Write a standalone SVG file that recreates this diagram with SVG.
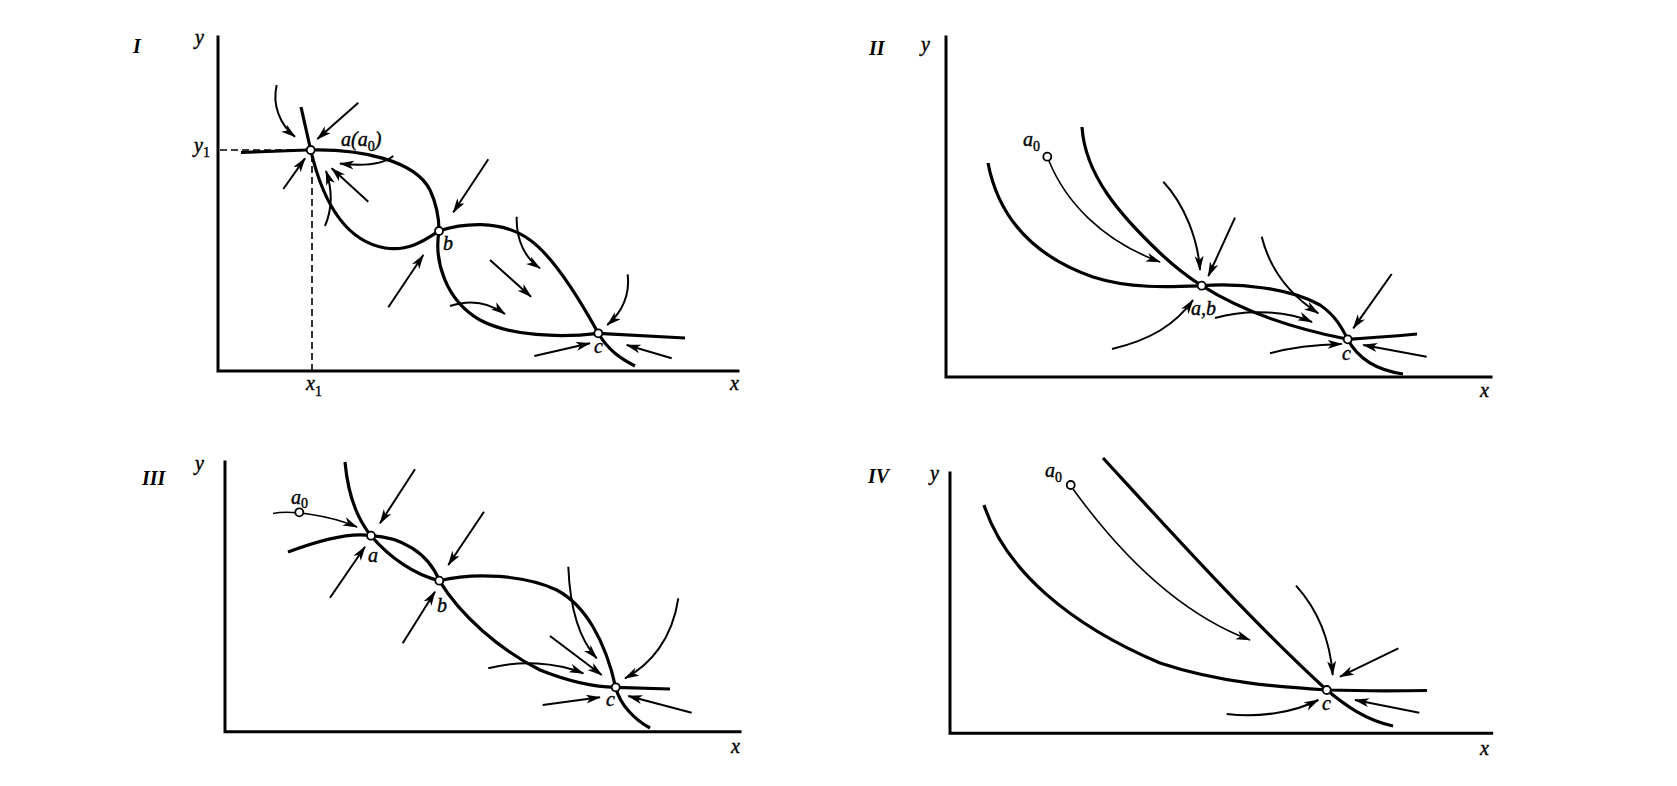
<svg xmlns="http://www.w3.org/2000/svg" width="1677" height="786" viewBox="0 0 1677 786">
<defs>
<marker id="ah" markerUnits="userSpaceOnUse" markerWidth="16" markerHeight="10" refX="14" refY="4.5" orient="auto">
<path d="M0,0 L15,4.5 L0,9 L4,4.5 z" fill="#000"/>
</marker>
<style>
.ax{fill:none;stroke:#000;stroke-width:3;stroke-linecap:square}
.cv{fill:none;stroke:#000;stroke-width:3.2}
.ar{fill:none;stroke:#000;stroke-width:2;marker-end:url(#ah)}
.dash{fill:none;stroke:#000;stroke-width:1.6;stroke-dasharray:7,4}
.pt{fill:#fff;stroke:#000;stroke-width:1.8}
text{font-family:"Liberation Serif",serif;font-style:italic;font-size:20px;fill:#000;stroke:#000;stroke-width:0.4}
.rn{font-size:20px;font-weight:bold;stroke-width:0}
.sub{font-size:14px;font-style:normal}
</style>
</defs>
<rect width="1677" height="786" fill="#fff"/>

<g id="panel-I">
<path class="ax" d="M218,37 V371 H738"/>
<path class="dash" d="M220,150 H306"/>
<path class="dash" d="M312,155 V371"/>
<g id="curves-I">
<path class="cv" d="M241,152.5 L307,150"/>
<path class="cv" d="M301,107 L310.7,150 C320,190 340,240 385,248 C410,252 428,238 439,231"/>
<path class="cv" d="M310.7,150 C360,149 415,160 430,190 C437,205 439,218 439,231"/>
<path class="cv" d="M439,231 C460,224 500,218 530,240 C555,258 580,300 598.3,333.3 C608,350 620,358 635,366"/>
<path class="cv" d="M439,231 C434,260 445,300 480,320 C510,336 560,338 598.3,333.3 L685,338"/>
</g>
<g id="arrows-I">
<path class="ar" d="M276.7,85 C272,105 280,125 295,136.7"/>
<path class="ar" d="M358.3,102.7 L317.3,139"/>
<path class="ar" d="M283.3,189 L305,158.3"/>
<path class="ar" d="M393.3,156 Q378,168 340,163.5"/>
<path class="ar" d="M368.3,201.7 L331.7,168.3"/>
<path class="ar" d="M325,226 Q336,200 326,171"/>
<path class="ar" d="M488.3,159.3 L453.3,212.3"/>
<path class="ar" d="M388.3,307.3 L423.3,255"/>
<path class="ar" d="M516.7,216.7 C516,240 525,258 540,268.3"/>
<path class="ar" d="M490,260 L531,296.7"/>
<path class="ar" d="M450,306 Q480,296 505,314"/>
<path class="ar" d="M627.7,274.3 C630,295 622,312 607.3,325"/>
<path class="ar" d="M534.3,356 L590,343.3"/>
<path class="ar" d="M671.7,358.3 L626.7,345"/>
</g>
<g id="node-I-a"><circle class="pt" cx="310.7" cy="150" r="4"/><text x="341" y="146">a(a<tspan class="sub" dy="5">0</tspan><tspan dy="-5">)</tspan></text></g>
<g id="node-I-b"><circle class="pt" cx="439" cy="231" r="4"/><text x="443" y="250">b</text></g>
<g id="node-I-c"><circle class="pt" cx="598.3" cy="333.3" r="4"/><text x="594" y="353">c</text></g>
<text class="rn" x="133" y="53">I</text>
<text x="195" y="44">y</text>
<text x="194" y="152">y<tspan class="sub" dy="5">1</tspan></text>
<text x="306" y="390">x<tspan class="sub" dy="6">1</tspan></text>
<text x="730" y="390">x</text>
</g>

<g id="panel-II">
<path class="ax" d="M946,37 V377 H1491"/>
<g id="curves-II">
<path class="cv" d="M988,163 C998,215 1030,255 1093,277 C1130,289 1170,287 1201.7,285.7 C1240,283 1290,288 1320,305 C1335,315 1342,328 1347.7,339.3 C1357,357 1375,370 1403,374"/>
<path class="cv" d="M1082,127 C1085,175 1120,215 1160,253 C1175,267 1188,277 1201.7,285.7 C1240,310 1290,328 1347.7,339.3 C1370,338 1395,336 1417,334"/>
</g>
<g id="arrows-II">
<path class="ar" style="stroke-width:1.6" d="M1049,161 C1065,200 1100,240 1160,262"/>
<path class="ar" d="M1163.3,181.7 C1185,205 1198,240 1200,270"/>
<path class="ar" d="M1235,217.7 L1208.3,276"/>
<path class="ar" d="M1112,349 C1150,340 1175,325 1193,300"/>
<path class="ar" d="M1215,318 C1250,308 1290,312 1312,322"/>
<path class="ar" d="M1261.7,236.7 C1270,270 1290,295 1318.3,313.3"/>
<path class="ar" d="M1391.7,274 L1353.3,328.3"/>
<path class="ar" d="M1270,353.3 Q1300,345 1341.7,344"/>
<path class="ar" d="M1426.7,356.7 L1363.3,345"/>
</g>
<g id="node-II-a0"><circle class="pt" cx="1047.3" cy="156.7" r="4"/><text x="1023" y="146">a<tspan class="sub" dy="5">0</tspan></text></g>
<g id="node-II-ab"><circle class="pt" cx="1201.7" cy="285.7" r="4"/><text x="1191" y="315">a,b</text></g>
<g id="node-II-c"><circle class="pt" cx="1347.7" cy="339.3" r="4"/><text x="1342" y="360">c</text></g>
<text class="rn" x="869" y="55">II</text>
<text x="921" y="51">y</text>
<text x="1480" y="397">x</text>
</g>

<g id="panel-III">
<path class="ax" d="M225,462 V731.7 H740"/>
<g id="curves-III">
<path class="cv" d="M345,462 C348,495 358,520 371,535.7"/>
<path class="cv" d="M371,535.7 C390,558 415,575 439.3,580.7"/>
<path class="cv" d="M288,552 C320,540 350,532 371,535.7 C400,537 428,552 439.3,580.7"/>
<path class="cv" d="M439.3,580.7 C460,615 500,650 540,670 C570,682 595,687 615.7,687.3 L670,689"/>
<path class="cv" d="M439.3,580.7 C475,572 525,575 556.7,590 C585,605 605,640 615.7,687.3 C620,705 635,720 650,728"/>
</g>
<g id="arrows-III">
<path class="ar" style="stroke-width:1.6" d="M273,513.5 C290,510 330,515 357,527"/>
<path class="ar" d="M415,469.3 L380,523.3"/>
<path class="ar" d="M330,597.7 L365,546.7"/>
<path class="ar" d="M484,511.7 L448.3,565"/>
<path class="ar" d="M402.7,643.3 L435,591.7"/>
<path class="ar" d="M568.3,566.7 C570,610 580,640 596.7,658.3"/>
<path class="ar" d="M550,636 L601.7,675"/>
<path class="ar" d="M488.3,668.3 C520,660 555,662 583.3,673.3"/>
<path class="ar" d="M678.3,598.3 C672,640 650,665 625,678.3"/>
<path class="ar" d="M542.7,705 L600,697.3"/>
<path class="ar" d="M691.7,712.7 L628.3,696"/>
</g>
<g id="node-III-a0"><circle class="pt" cx="299.3" cy="512.3" r="4"/><text x="291" y="504">a<tspan class="sub" dy="4">0</tspan></text></g>
<g id="node-III-a"><circle class="pt" cx="371" cy="535.7" r="4"/><text x="368" y="562">a</text></g>
<g id="node-III-b"><circle class="pt" cx="439.3" cy="580.7" r="4"/><text x="437" y="612">b</text></g>
<g id="node-III-c"><circle class="pt" cx="615.7" cy="687.3" r="4"/><text x="606" y="706">c</text></g>
<text class="rn" x="142" y="485">III</text>
<text x="195" y="470">y</text>
<text x="731" y="753">x</text>
</g>

<g id="panel-IV">
<path class="ax" d="M950,473 V733.3 H1491.7"/>
<g id="curves-IV">
<path class="cv" d="M984,505 C1005,570 1070,625 1160,663 C1220,683 1280,687 1326.7,690 C1360,691 1395,691 1427,690.5"/>
<path class="cv" d="M1103,458 C1160,520 1250,620 1326.7,690 C1345,705 1365,720 1393,726"/>
</g>
<g id="arrows-IV">
<path class="ar" style="stroke-width:1.6" d="M1073,489 C1110,540 1170,610 1250,640"/>
<path class="ar" d="M1296,585.7 C1318,610 1330,640 1332.7,675"/>
<path class="ar" d="M1398.3,648.3 L1340,676.7"/>
<path class="ar" d="M1226.7,714 C1260,718 1295,712 1318.3,700"/>
<path class="ar" d="M1419.3,712.7 L1355,700"/>
</g>
<g id="node-IV-a0"><circle class="pt" cx="1070.7" cy="485" r="4"/><text x="1045" y="477">a<tspan class="sub" dy="5">0</tspan></text></g>
<g id="node-IV-c"><circle class="pt" cx="1326.7" cy="690" r="4"/><text x="1322" y="710">c</text></g>
<text class="rn" x="868" y="483">IV</text>
<text x="930" y="480">y</text>
<text x="1480" y="755">x</text>
</g>
</svg>
